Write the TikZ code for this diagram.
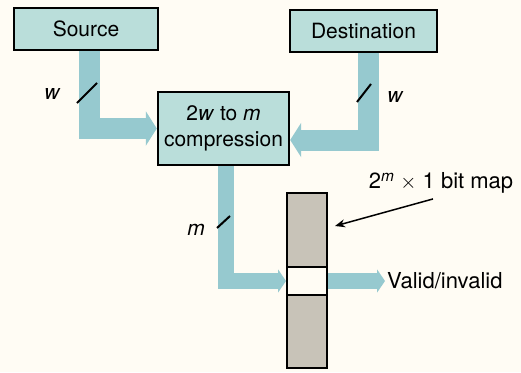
\documentclass[tikz,border=0pt]{standalone}
\usepackage{fontspec}
\setmainfont{TeX Gyre Heros}
\usepackage{xcolor}
\usetikzlibrary{arrows.meta,positioning}

\definecolor{paper}{RGB}{255,252,244}
\definecolor{boxfill}{RGB}{186,222,218}
\definecolor{pipe}{RGB}{150,201,207}
\definecolor{mapgray}{RGB}{200,195,184}

\begin{document}
\begin{tikzpicture}[x=1pt,y=-1pt,
  block/.style={draw=black,line width=2.4pt,fill=boxfill,minimum height=42pt,inner sep=0pt,font=\fontsize{21}{26}\selectfont},
  pipe/.style={draw=pipe,line width=21pt,-{Triangle[width=34pt,length=11pt]}},
  thinpipe/.style={draw=pipe,line width=16pt,-{Triangle[width=23pt,length=8pt]}},
  cell/.style={draw=black,line width=1.8pt,minimum width=40pt,inner sep=0pt,outer sep=0pt},
  tick/.style={line width=2pt},
  txt/.style={font=\fontsize{22}{26}\selectfont},
  lbl/.style={font=\fontsize{21}{24}\selectfont\itshape}]
  % paper
  \fill[paper] (0,0) rectangle (521,372);
  \useasboundingbox (0,0) rectangle (521,372);

  % Blocks
  \node[block,minimum width=144pt] (src) at (86,29) {Source};
  \node[block,minimum width=147pt] (dst) at (363.5,31) {Destination};
  \node[block,minimum width=131pt,minimum height=73pt,align=center] (cmp) at (223.5,128.5) {2\textit{w} to \textit{m}\\compression};

  % Bit map column
  \node[cell,minimum height=28pt,fill=paper] (slot) at (307,281) {};
  \node[cell,minimum height=74pt,fill=mapgray,above=0pt of slot] (maptop) {};
  \node[cell,minimum height=73pt,fill=mapgray,below=0pt of slot] (mapbot) {};

  % Text Nodes
  \node[txt,anchor=west,inner sep=2pt] (valid) at (385,281) {Valid/invalid};
  \node[txt] (maplbl) at (441,183) {2\textsuperscript{\textit{m}} $\times$ 1 bit map};
  \node[lbl] (wsrc) at (52,94) {w};
  \node[lbl] (wdst) at (395,97) {w};
  \node[lbl] (mlbl) at (196,230) {m};

  % Buses
  \draw[pipe] ([xshift=3pt]src.south) |- (cmp.west);
  \draw[pipe] ([xshift=4.5pt]dst.south) |- ([yshift=-11.5pt]cmp.east);
  \draw[thinpipe] ([xshift=2.5pt]cmp.south) |- ([xshift=-1pt]slot.west);
  \draw[thinpipe] ([xshift=1pt]slot.east) -- (valid.west);

  % Bus width ticks
  \draw[tick] (77,103) -- (97,83);
  \draw[tick] (357,102) -- (371,84);
  \draw[tick] (217,228) -- (230,216);

  % Pointer to the map
  \coordinate (mapptr) at (335,226);
  \draw[line width=1.5pt,-{Stealth[length=10pt,width=8pt]}] ([xshift=-8pt,yshift=-2pt]maplbl.south) -- (mapptr);
\end{tikzpicture}
\end{document}
